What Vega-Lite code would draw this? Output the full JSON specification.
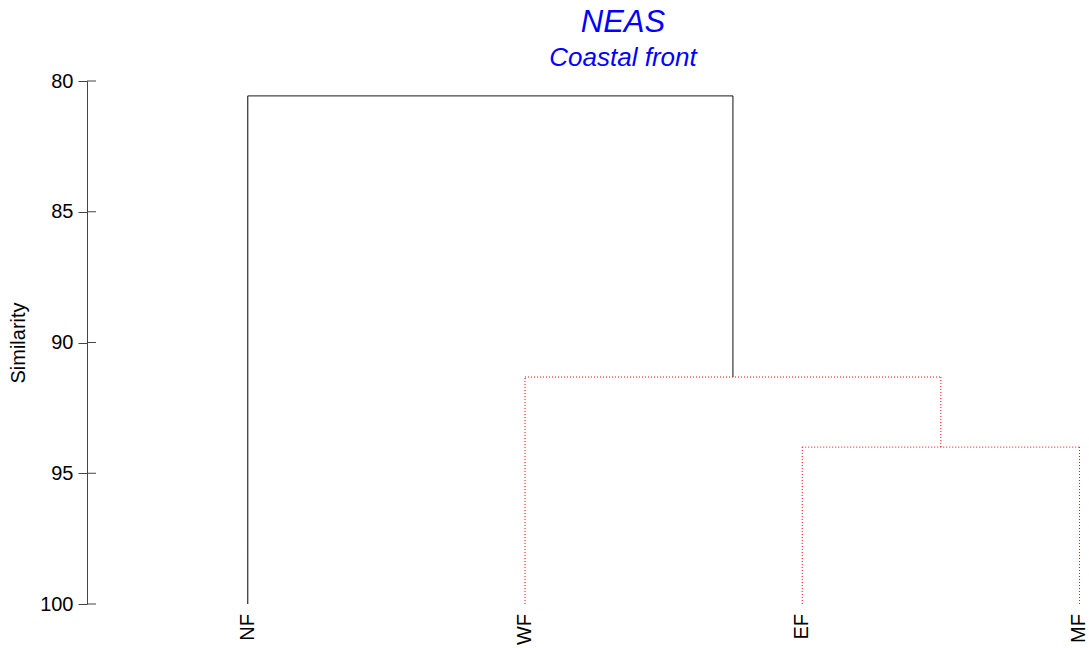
{
  "$schema": "https://vega.github.io/schema/vega-lite/v6.json",
  "width": 998,
  "height": 523,
  "autosize": {"type": "none"},
  "padding": {"left": 87, "top": 81, "right": 4, "bottom": 44},
  "background": "white",
  "config": {"view": {"stroke": null}, "font": "Liberation Sans"},
  "title": {
    "text": "NEAS",
    "subtitle": "Coastal front",
    "anchor": "middle",
    "dx": 37,
    "offset": -1,
    "font": "Liberation Sans",
    "fontSize": 31,
    "fontStyle": "italic",
    "fontWeight": "normal",
    "color": "#0000FF",
    "subtitleFont": "Liberation Sans",
    "subtitleFontSize": 26,
    "subtitleFontStyle": "italic",
    "subtitleColor": "#0000FF",
    "subtitlePadding": 6
  },
  "datasets": {
    "segments": [
      {"x": 1, "x2": 1, "y": 100, "y2": 80.57, "kind": "black"},
      {"x": 1, "x2": 2.75, "y": 80.57, "y2": 80.57, "kind": "black"},
      {"x": 2.75, "x2": 2.75, "y": 80.57, "y2": 91.32, "kind": "black"},
      {"x": 2, "x2": 2, "y": 100, "y2": 91.32, "kind": "red"},
      {"x": 2, "x2": 3.5, "y": 91.32, "y2": 91.32, "kind": "red"},
      {"x": 3.5, "x2": 3.5, "y": 91.32, "y2": 94.0, "kind": "red"},
      {"x": 3, "x2": 4, "y": 94.0, "y2": 94.0, "kind": "red"},
      {"x": 3, "x2": 3, "y": 100, "y2": 94.0, "kind": "red"},
      {"x": 4, "x2": 4, "y": 100, "y2": 94.0, "kind": "red"}
    ],
    "leaves": [
      {"x": 1, "y": 100, "label": "NF"},
      {"x": 2, "y": 100, "label": "WF"},
      {"x": 3, "y": 100, "label": "EF"},
      {"x": 4, "y": 100, "label": "MF"}
    ],
    "ticks": [
      {"x": 0.42, "x2": 0.4525, "y": 80},
      {"x": 0.42, "x2": 0.4525, "y": 85},
      {"x": 0.42, "x2": 0.4525, "y": 90},
      {"x": 0.42, "x2": 0.4525, "y": 95},
      {"x": 0.42, "x2": 0.4525, "y": 100}
    ]
  },
  "layer": [
    {
      "data": {"name": "ticks"},
      "mark": {"type": "rule", "color": "#444444", "strokeWidth": 1},
      "encoding": {
        "x": {"field": "x", "type": "quantitative", "scale": {"domain": [0.42, 4.02], "nice": false, "zero": false}, "axis": null},
        "x2": {"field": "x2"},
        "y": {
          "field": "y", "type": "quantitative",
          "scale": {"domain": [80, 100], "reverse": true, "nice": false, "zero": false},
          "axis": {
            "title": "Similarity",
            "values": [80, 85, 90, 95, 100],
            "domainColor": "#444444",
            "domainWidth": 1,
            "tickColor": "#444444",
            "tickSize": 9,
            "tickWidth": 1,
            "labelFontSize": 20,
            "labelColor": "#000000",
            "labelPadding": 5,
            "labelFont": "Liberation Sans",
            "titleFont": "Liberation Sans",
            "titleFontSize": 20,
            "titleFontWeight": "normal",
            "titleColor": "#000000",
            "titlePadding": 11,
            "grid": false
          }
        }
      }
    },
    {
      "data": {"name": "segments"},
      "mark": {"type": "rule", "strokeWidth": 1},
      "encoding": {
        "x": {"field": "x", "type": "quantitative"},
        "x2": {"field": "x2"},
        "y": {"field": "y", "type": "quantitative"},
        "y2": {"field": "y2"},
        "color": {"field": "kind", "type": "nominal", "scale": {"domain": ["black", "red"], "range": ["#000000", "#FF0000"]}, "legend": null},
        "strokeDash": {"field": "kind", "type": "nominal", "scale": {"domain": ["black", "red"], "range": [[1, 0], [1, 2]]}, "legend": null}
      }
    },
    {
      "data": {"name": "leaves"},
      "mark": {"type": "text", "angle": 270, "align": "right", "baseline": "middle", "yOffset": 10, "fontSize": 20, "font": "Liberation Sans", "color": "#000000", "clip": false},
      "encoding": {
        "x": {"field": "x", "type": "quantitative"},
        "y": {"field": "y", "type": "quantitative"},
        "text": {"field": "label"}
      }
    }
  ]
}
